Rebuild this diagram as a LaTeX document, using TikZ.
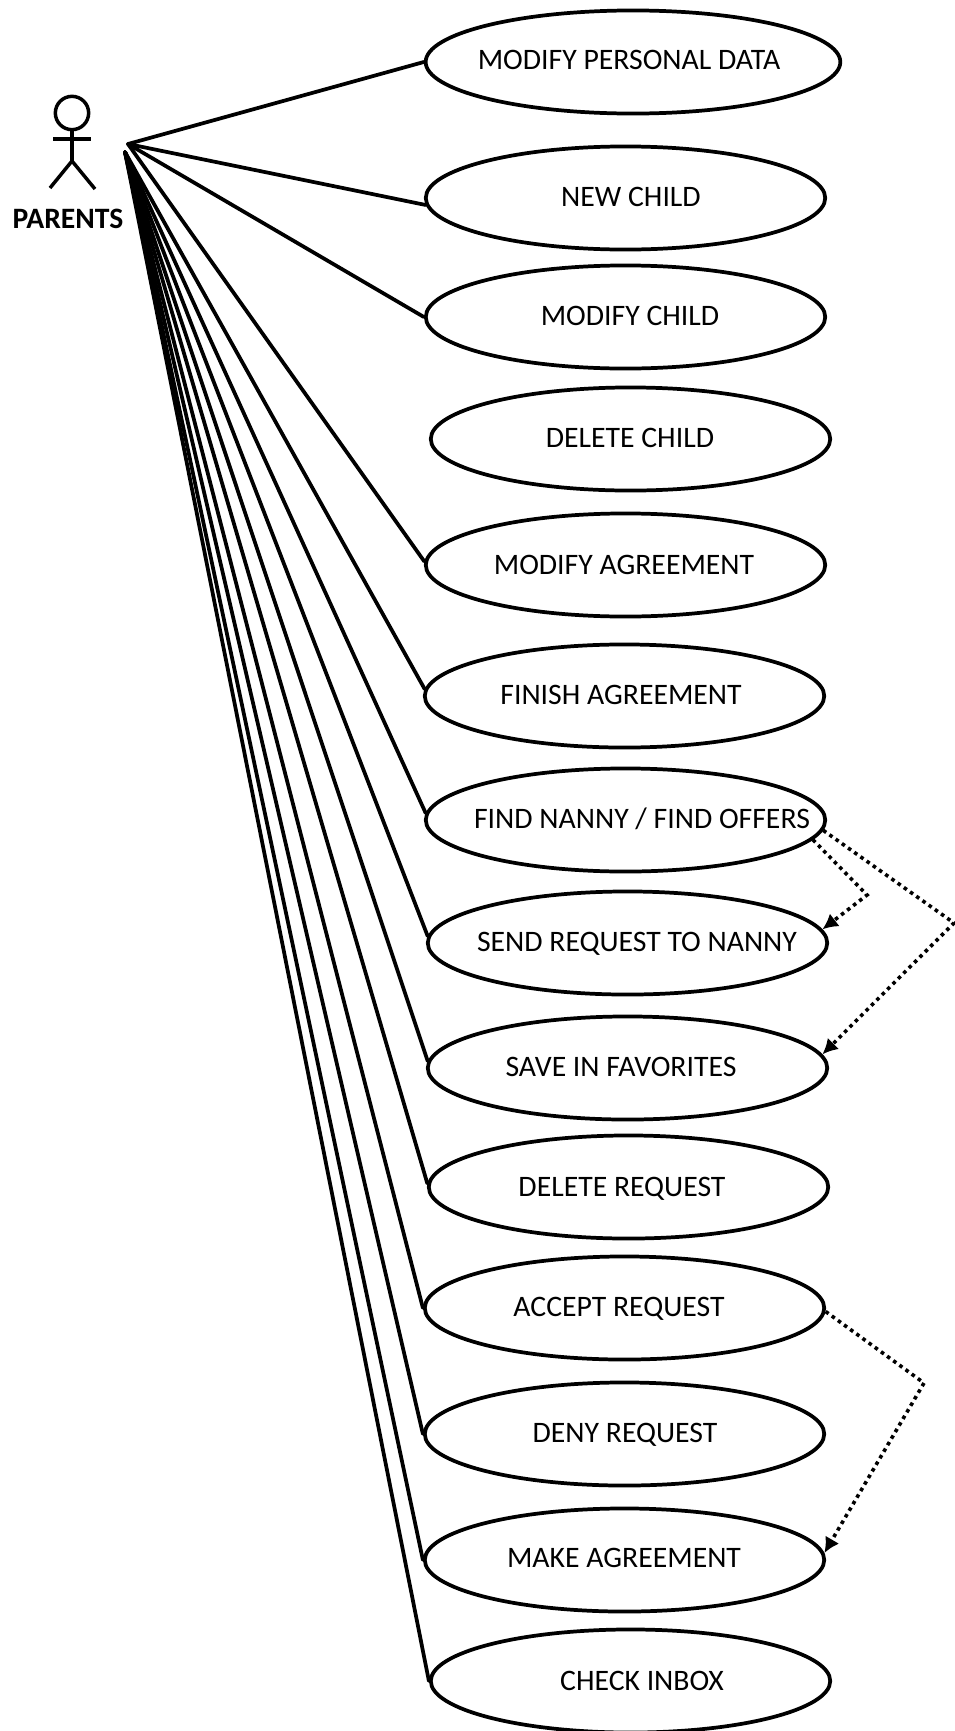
\documentclass[tikz,border=0pt]{standalone}
\usepackage{fontspec}
\setmainfont{Carlito}
\usetikzlibrary{shapes.geometric,arrows.meta}
\begin{document}
\begin{tikzpicture}[x=0.75pt, y=-0.75pt]
            \tikzstyle{usecase}=[ellipse,draw,line width=2.8pt,minimum width=299.6pt,minimum height=77.3pt,inner sep=0pt]
            \tikzstyle{wide}=[usecase,minimum width=311pt]
            \tikzstyle{caption}=[font=\fontsize{22.3pt}{26pt}\selectfont,inner sep=0pt]
            \tikzstyle{actor}=[line width=2.6pt]
            \tikzstyle{assoc}=[line width=2.8pt,line cap=round]
            \tikzstyle{relation}=[line width=2.7pt,dash pattern=on 2.7pt off 3pt,-{Latex[length=11.5pt,width=12pt]}]
            \useasboundingbox (0,0) rectangle (955,1731);

            \node[usecase,wide] (UC_1) at (633,62) {};
            \node[usecase] (UC_2) at (625.5,198) {};
            \node[usecase] (UC_3) at (625.5,317) {};
            \node[usecase] (UC_4) at (630.5,439) {};
            \node[usecase] (UC_5) at (625.5,565) {};
            \node[usecase] (UC_6) at (624.5,696) {};
            \node[usecase] (UC_7) at (625.5,820) {};
            \node[usecase] (UC_8) at (627.5,943) {};
            \node[usecase] (UC_9) at (627.5,1068) {};
            \node[usecase] (UC_10) at (628.5,1187) {};
            \node[usecase] (UC_11) at (624.5,1308) {};
            \node[usecase] (UC_12) at (624.5,1434) {};
            \node[usecase] (UC_13) at (624.5,1560) {};
            \node[usecase] (UC_14) at (630.5,1681) {};

            \node[caption] (T_1) at (629,60) {MODIFY PERSONAL DATA};
            \node[caption] (T_2) at (631,197) {NEW CHILD};
            \node[caption] (T_3) at (630,316) {MODIFY CHILD};
            \node[caption] (T_4) at (630,438) {DELETE CHILD};
            \node[caption] (T_5) at (624,565) {MODIFY AGREEMENT};
            \node[caption] (T_6) at (621,695) {FINISH AGREEMENT};
            \node[caption] (T_7) at (642,819) {FIND NANNY / FIND OFFERS};
            \node[caption] (T_8) at (637,944) {SEND REQUEST TO NANNY};
            \node[caption] (T_9) at (621,1067) {SAVE IN FAVORITES};
            \node[caption] (T_10) at (622,1189) {DELETE REQUEST};
            \node[caption] (T_11) at (619,1309) {ACCEPT REQUEST};
            \node[caption] (T_12) at (625,1435) {DENY REQUEST};
            \node[caption] (T_13) at (624,1558) {MAKE AGREEMENT};
            \node[caption] (T_14) at (642,1681) {CHECK INBOX};

            % stick figure
            \node[circle,actor,draw,minimum size=25pt,inner sep=0pt] (Head) at (72,113) {};
            \coordinate (Hip) at (72,161);
            \coordinate (Arm_L) at (53,139);
            \coordinate (Arm_R) at (91,139);
            \coordinate (Foot_L) at (50,188);
            \coordinate (Foot_R) at (95,189);
            \draw[actor] (Head) -- (Hip);
            \draw[actor] (Arm_L) -- (Arm_R);
            \draw[actor] (Foot_L) -- (Hip) -- (Foot_R);
            \node[font=\fontsize{22.2pt}{26pt}\selectfont\bfseries,inner sep=0pt] (Parents) at (68,219) {PARENTS};

            \coordinate (Hand) at (128,144);
            \coordinate (Hand_2) at (125,152);
            \draw[assoc] (Hand) -- (UC_1.west);
            \draw[assoc] (Hand) -- (UC_2.182);
            \draw[assoc] (Hand) -- (UC_3.west);
            \draw[assoc] (Hand) -- (UC_5.179);
            \draw[assoc] (Hand_2) -- (UC_6.178);
            \draw[assoc] (Hand_2) -- (UC_7.178);
            \draw[assoc] (Hand_2) -- (UC_8.178);
            \draw[assoc] (Hand_2) -- (UC_9.178);
            \draw[assoc] (Hand_2) -- (UC_10.179);
            \draw[assoc] (Hand_2) -- (UC_11.west);
            \draw[assoc] (Hand_2) -- (UC_12.west);
            \draw[assoc] (Hand_2) -- (UC_13.west);
            \draw[assoc] (Hand_2) -- (UC_14.west);

            \coordinate (Bend_1) at (867,895);
            \coordinate (Bend_2) at (954,923);
            \coordinate (Bend_3) at (924,1383);
            \draw[relation] (UC_7.-6) -- (Bend_1) -- (UC_8.4);
            \draw[relation] (UC_7.-3) -- (Bend_2) -- (UC_9.4);
            \draw[relation] (UC_11.-1) -- (Bend_3) -- (UC_13.2);
\end{tikzpicture}
\end{document}
